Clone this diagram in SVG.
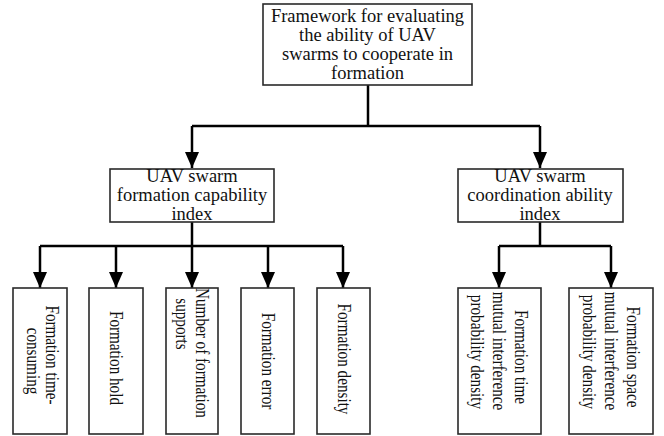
<svg xmlns="http://www.w3.org/2000/svg" width="664" height="436" viewBox="0 0 664 436">
<defs>
<style>
.box{fill:#fff;stroke:#2a2a2a;stroke-width:1.6}
.t{font-family:"Liberation Serif","Times New Roman",serif;font-size:18.5px;fill:#111;text-anchor:middle}
.v{font-family:"Liberation Serif","Times New Roman",serif;font-size:19px;fill:#111;text-anchor:middle}
.c{fill:none;stroke:#000;stroke-width:2.5}
</style>
<marker id="ah" viewBox="0 0 16 14" refX="16" refY="7" markerWidth="16" markerHeight="14" markerUnits="userSpaceOnUse" orient="auto">
<path d="M0,0 L16,7 L0,14 Z" fill="#000"/>
</marker>
</defs>
<rect width="664" height="436" fill="#fff"/>
<g id="connectors">
<path class="c" d="M368,85 V126"/>
<path class="c" d="M192,126 H540"/>
<path class="c" d="M192,126 V168" marker-end="url(#ah)"/>
<path class="c" d="M540,126 V168" marker-end="url(#ah)"/>
<path class="c" d="M192,222 V246"/>
<path class="c" d="M40,246 H343"/>
<path class="c" d="M40,246 V288" marker-end="url(#ah)"/>
<path class="c" d="M116,246 V288" marker-end="url(#ah)"/>
<path class="c" d="M192,246 V288" marker-end="url(#ah)"/>
<path class="c" d="M268,246 V288" marker-end="url(#ah)"/>
<path class="c" d="M343,246 V288" marker-end="url(#ah)"/>
<path class="c" d="M540,222 V246"/>
<path class="c" d="M499,246 H611"/>
<path class="c" d="M499,246 V288" marker-end="url(#ah)"/>
<path class="c" d="M611,246 V288" marker-end="url(#ah)"/>
</g>
<g id="root">
<rect class="box" x="263" y="4" width="209" height="81"/>
<text class="t" x="367.5" y="22">Framework for evaluating</text>
<text class="t" x="367.5" y="41">the ability of UAV</text>
<text class="t" x="367.5" y="60">swarms to cooperate in</text>
<text class="t" x="367.5" y="79">formation</text>
</g>
<g id="formation-capability">
<rect class="box" x="110" y="169" width="164" height="53"/>
<text class="t" x="192" y="182">UAV swarm</text>
<text class="t" x="192" y="201">formation capability</text>
<text class="t" x="192" y="220">index</text>
</g>
<g id="coordination-ability">
<rect class="box" x="458" y="169" width="165" height="53"/>
<text class="t" x="540" y="182">UAV swarm</text>
<text class="t" x="540" y="201">coordination ability</text>
<text class="t" x="540" y="220">index</text>
</g>
<g id="time-consuming">
<rect class="box" x="13" y="288" width="54" height="146"/>
<text class="v" transform="translate(46,355) rotate(90) scale(0.8,1)">Formation time-</text>
<text class="v" transform="translate(27,361) rotate(90) scale(0.8,1)">consuming</text>
</g>
<g id="hold">
<rect class="box" x="89" y="288" width="54" height="146"/>
<text class="v" transform="translate(110,358) rotate(90) scale(0.8,1)">Formation hold</text>
</g>
<g id="supports">
<rect class="box" x="166" y="288" width="52" height="146"/>
<text class="v" transform="translate(196,353) rotate(90) scale(0.8,1)">Number of formation</text>
<text class="v" transform="translate(176,324) rotate(90) scale(0.8,1)">supports</text>
</g>
<g id="error">
<rect class="box" x="241" y="288" width="53" height="146"/>
<text class="v" transform="translate(262,361) rotate(90) scale(0.8,1)">Formation error</text>
</g>
<g id="density">
<rect class="box" x="317" y="288" width="53" height="146"/>
<text class="v" transform="translate(338,359) rotate(90) scale(0.8,1)">Formation density</text>
</g>
<g id="time-interference">
<rect class="box" x="458" y="288" width="83" height="146"/>
<text class="v" transform="translate(515,357) rotate(90) scale(0.8,1)">Formation time</text>
<text class="v" transform="translate(493,351) rotate(90) scale(0.8,1)">mutual interference</text>
<text class="v" transform="translate(471,352) rotate(90) scale(0.8,1)">probability density</text>
</g>
<g id="space-interference">
<rect class="box" x="569" y="288" width="84" height="146"/>
<text class="v" transform="translate(627,357) rotate(90) scale(0.8,1)">Formation space</text>
<text class="v" transform="translate(605,351) rotate(90) scale(0.8,1)">mutual interference</text>
<text class="v" transform="translate(583,352) rotate(90) scale(0.8,1)">probability density</text>
</g>
</svg>
